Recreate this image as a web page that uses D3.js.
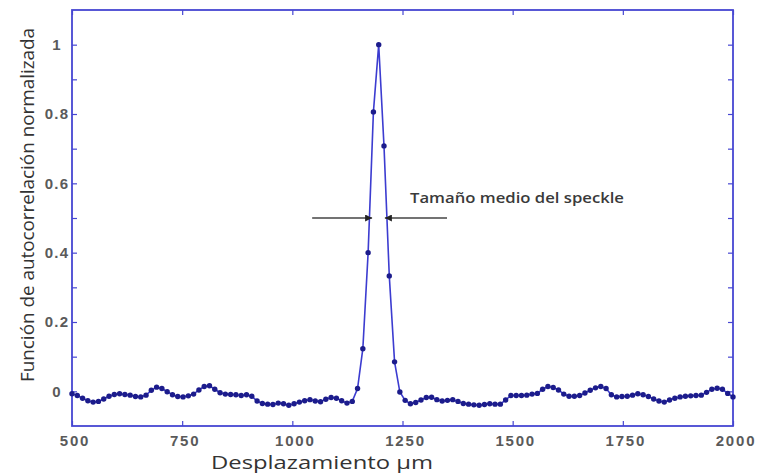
<!DOCTYPE html>
<html>
<head>
<meta charset="utf-8">
<script src="https://cdn.jsdelivr.net/npm/d3@7"></script>
<style>
  body { margin: 0; background: #fff; }
</style>
</head>
<body>
<div id="graph"></div>
<script>
// Datos
const desplazamiento = [
  500, 512, 524, 536, 548, 560, 572, 584, 596, 608, 620, 632, 644, 656, 668, 680, 692, 704, 716, 728,
  740, 752, 764, 776, 788, 800, 812, 824, 836, 848, 860, 872, 884, 896, 908, 920, 932, 944, 956, 968,
  980, 992, 1004, 1016, 1028, 1040, 1052, 1064, 1076, 1088, 1100, 1112, 1124, 1136, 1148, 1160, 1172, 1184, 1196, 1208,
  1220, 1232, 1244, 1256, 1268, 1280, 1292, 1304, 1316, 1328, 1340, 1352, 1364, 1376, 1388, 1400, 1412, 1424, 1436, 1448,
  1460, 1472, 1484, 1496, 1508, 1520, 1532, 1544, 1556, 1568, 1580, 1592, 1604, 1616, 1628, 1640, 1652, 1664, 1676, 1688,
  1700, 1712, 1724, 1736, 1748, 1760, 1772, 1784, 1796, 1808, 1820, 1832, 1844, 1856, 1868, 1880, 1892, 1904, 1916, 1928,
  1940, 1952, 1964, 1976, 1988, 2000
]

const autocorrelacion = [
  -0.007, -0.012, -0.020, -0.027, -0.031, -0.029, -0.022, -0.014, -0.009, -0.007, -0.009, -0.011, -0.015, -0.016, -0.011, 0.003, 0.012, 0.008, -0.001, -0.010,
  -0.015, -0.016, -0.013, -0.008, 0.004, 0.014, 0.016, 0.006, -0.004, -0.008, -0.009, -0.010, -0.012, -0.010, -0.014, -0.028, -0.035, -0.037, -0.038, -0.034,
  -0.036, -0.040, -0.036, -0.031, -0.027, -0.024, -0.028, -0.030, -0.023, -0.018, -0.020, -0.027, -0.034, -0.029, 0.008, 0.123, 0.400, 0.806, 1.000, 0.708,
  0.333, 0.085, -0.002, -0.026, -0.036, -0.032, -0.025, -0.018, -0.017, -0.024, -0.028, -0.026, -0.024, -0.029, -0.035, -0.037, -0.039, -0.040, -0.038, -0.036,
  -0.037, -0.037, -0.025, -0.012, -0.012, -0.012, -0.011, -0.008, -0.006, 0.006, 0.014, 0.011, 0.004, -0.008, -0.014, -0.014, -0.012, -0.005, 0.003, 0.010,
  0.014, 0.008, -0.010, -0.016, -0.015, -0.014, -0.011, -0.007, -0.010, -0.015, -0.022, -0.028, -0.031, -0.025, -0.020, -0.016, -0.014, -0.013, -0.012, -0.011,
  -0.003, 0.006, 0.009, 0.006, -0.006, -0.016
]

const xTicks = [500, 750, 1000, 1250, 1500, 1750, 2000]
const yTicks = [0, 0.2, 0.4, 0.6, 0.8, 1]
const yMarcas = [0, 0.1, 0.2, 0.3, 0.4, 0.5, 0.6, 0.7, 0.8, 0.9, 1]
const xLabel = "Desplazamiento µm"
const yLabel = "Función de autocorrelación normalizada"
const anotacion = "Tamaño medio del speckle"

const dimensions = { width: 758, height: 476 }
const margin = { left: 72, right: 25, top: 10, bottom: 50 }

const azulEje = "#4646d2"

// Creamos el SVG
const svg = d3.select("#graph")
  .append("svg")
    .attr("width", dimensions.width)
    .attr("height", dimensions.height)
    .style("font-family", "'Liberation Sans', Arial, sans-serif")

// Definimos las escalas
const xScale = d3.scaleLinear()
  .domain([500, 2000])
  .range([margin.left, dimensions.width - margin.right])

const yScale = d3.scaleLinear()
  .domain([-0.1, 1.1])
  .range([dimensions.height - margin.bottom, margin.top])

// Ejes con marcas hacia dentro
const ejeAbajo = svg.append("g")
  .attr("transform", `translate(0,${yScale(-0.1)})`)
  .call(d3.axisTop(xScale).tickValues(xTicks).tickSize(5).tickFormat(""))
const ejeArriba = svg.append("g")
  .attr("transform", `translate(0,${yScale(1.1)})`)
  .call(d3.axisBottom(xScale).tickValues(xTicks).tickSize(5).tickFormat(""))
const ejeIzq = svg.append("g")
  .attr("transform", `translate(${xScale(500)},0)`)
  .call(d3.axisRight(yScale).tickValues(yMarcas).tickSize(5).tickFormat(""))
const ejeDer = svg.append("g")
  .attr("transform", `translate(${xScale(2000)},0)`)
  .call(d3.axisLeft(yScale).tickValues(yMarcas).tickSize(5).tickFormat(""))

;[ejeAbajo, ejeArriba, ejeIzq, ejeDer].forEach(g => {
  g.select(".domain").remove()
  g.selectAll(".tick line").attr("stroke", azulEje).attr("stroke-width", 1.2)
})

// Marco
svg.append("rect")
  .attr("x", xScale(500))
  .attr("y", yScale(1.1))
  .attr("width", xScale(2000) - xScale(500))
  .attr("height", yScale(-0.1) - yScale(1.1))
  .attr("fill", "none")
  .attr("stroke", azulEje)
  .attr("stroke-width", 1.8)

// Etiquetas de las marcas
svg.append("g").selectAll("text")
  .data(xTicks)
  .join("text")
    .attr("x", d => xScale(d) + 3)
    .attr("y", yScale(-0.1) + 20)
    .attr("text-anchor", "middle")
    .attr("font-size", 15)
    .attr("font-weight", "bold")
    .attr("letter-spacing", 1.8)
    .attr("fill", "#5a5a5a")
    .text(d => d)

svg.append("g").selectAll("text")
  .data(yTicks)
  .join("text")
    .attr("x", 57)
    .attr("y", d => yScale(d))
    .attr("dy", "0.35em")
    .attr("text-anchor", "middle")
    .attr("font-size", 15)
    .attr("font-weight", "bold")
    .attr("letter-spacing", 1.2)
    .attr("fill", "#5a5a5a")
    .text(d => d)

// Títulos de ejes
svg.append("text")
  .attr("x", 322)
  .attr("y", 469)
  .attr("text-anchor", "middle")
  .attr("font-family", "'Open Sans', sans-serif")
  .attr("font-size", 19)
  .attr("fill", "#333")
  .attr("textLength", 222)
  .attr("lengthAdjust", "spacingAndGlyphs")
  .text(xLabel)

svg.append("text")
  .attr("transform", `translate(34,205) rotate(-90)`)
  .attr("text-anchor", "middle")
  .attr("font-family", "'Open Sans', sans-serif")
  .attr("font-size", 18)
  .attr("fill", "#333")
  .attr("textLength", 354)
  .attr("lengthAdjust", "spacingAndGlyphs")
  .text(yLabel)

// Curva
const line = d3.line()
  .x(d => xScale(d[0]))
  .y(d => yScale(d[1]))

const puntos = d3.zip(desplazamiento, autocorrelacion)

svg.append("path")
  .datum(puntos)
  .attr("d", line)
  .attr("fill", "none")
  .attr("stroke", "#3c3cd0")
  .attr("stroke-width", 1.6)

svg.append("g").selectAll("circle")
  .data(puntos)
  .join("circle")
    .attr("cx", d => xScale(d[0]))
    .attr("cy", d => yScale(d[1]))
    .attr("r", 2.7)
    .attr("fill", "#1c1c8c")

// Anotación con flechas
const defs = svg.append("defs")
defs.append("marker")
  .attr("id", "punta")
  .attr("viewBox", "0 0 10 10")
  .attr("refX", 10)
  .attr("refY", 5)
  .attr("markerWidth", 9)
  .attr("markerHeight", 7)
  .attr("markerUnits", "userSpaceOnUse")
  .attr("orient", "auto")
  .append("path")
    .attr("d", "M0,0 L10,5 L0,10 Z")
    .attr("fill", "#222")

const flechas = [[1045, 1181], [1351, 1210]]
svg.append("g").selectAll("line")
  .data(flechas)
  .join("line")
    .attr("x1", d => xScale(d[0]))
    .attr("x2", d => xScale(d[1]))
    .attr("y1", yScale(0.5))
    .attr("y2", yScale(0.5))
    .attr("stroke", "#444")
    .attr("stroke-width", 1.4)
    .attr("marker-end", "url(#punta)")

svg.append("text")
  .attr("x", xScale(1267))
  .attr("y", yScale(0.558))
  .attr("dy", "0.35em")
  .attr("font-family", "'Open Sans', sans-serif")
  .attr("font-size", 13.5)
  .attr("font-weight", 600)
  .attr("fill", "#3a3a3a")
  .attr("textLength", 214)
  .attr("lengthAdjust", "spacingAndGlyphs")
  .text(anotacion)
</script>
</body>
</html>
